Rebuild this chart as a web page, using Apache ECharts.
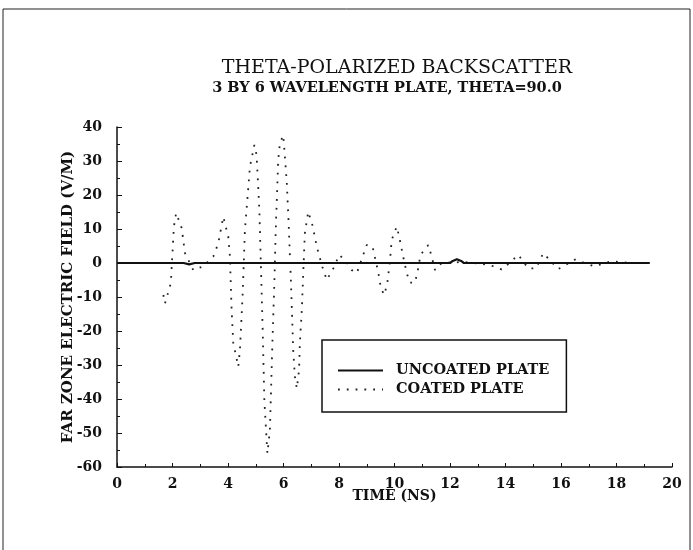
<!DOCTYPE html>
<html>
<head>
<meta charset="utf-8">
<script src="https://cdn.jsdelivr.net/npm/echarts@6/dist/echarts.min.js"></script>
<style>
  html, body { margin: 0; padding: 0; background: #fff; }
  #chart { width: 693px; height: 550px; }
</style>
</head>
<body>
<div id="chart"></div>
<script type="text/javascript">
    // time (ns) / field (V/M)
    var coatedT = [1.67, 1.73, 1.94, 2.05, 2.13, 2.33, 2.45, 2.75, 3.1, 3.47, 3.65, 3.83, 4.01, 4.07,
        4.13, 4.19, 4.37, 4.43, 4.53, 4.61, 4.79, 4.95, 5.03, 5.13, 5.19, 5.25, 5.31, 5.37, 5.42,
        5.51, 5.6, 5.67, 5.72, 5.81, 5.87, 5.99, 6.05, 6.12, 6.19, 6.27, 6.35, 6.41, 6.48, 6.56,
        6.59, 6.66, 6.74, 6.77, 6.89, 7.04, 7.2, 7.4, 7.56, 7.8, 8.01, 8.25, 8.46, 8.64, 9.0, 9.21,
        9.42, 9.51, 9.63, 9.74, 9.84, 9.9, 10.08, 10.17, 10.3, 10.44, 10.56, 10.74, 10.84, 10.94,
        11.22, 11.34, 11.46, 11.7, 12.5, 13.4, 13.86, 14.2, 14.46, 14.82, 15.1, 15.36, 15.9,
        16.5, 17.2, 17.8, 18.5, 19.2];
    var coatedV = [-9.4, -11.9, -5.9, 10.7, 14.7, 10.3, 2.9, -2.1, -1.0, 1.9, 5.8, 13.6, 7.7, 1.9,
        -13.8, -23.5, -30.5, -25.6, -8.8, 9.7, 28.3, 34.7, 31.8, 15.6, -2.1, -19.7, -40.3, -49.1, -56,
        -49.1, -23.6, -6, 9.7, 30.3, 35.2, 37.6, 31.3, 23.4, 10.7, -6, -25.6, -33.4, -36.9, -31.5,
        -23.6, -13.8, 2.9, 8.7, 15.1, 11.2, 4.8, -1.1, -5, -1.5, 2.4, 0.5, -2.1, -3, 5.3, 4.8,
        -3, -7.4, -9.4, -6, 0.9, 6.8, 10.7, 7.7, 2.4, -3, -5.8, -5.8, -2.1, 2.4,
        5.3, 1.9, -2.1, 0, 0.3, -0.5, -1.9, 0.4, 2.4, -1.6, -1.6, 2.9, -1.8,
        1.0, -1.0, 0.5, 0, 0];

    var uncoatedT = [0, 2.4, 2.6, 2.8, 12.0, 12.1, 12.25, 12.4, 12.5, 19.2];
    var uncoatedV = [0, 0, -0.4, 0, 0, 0.6, 1.1, 0.6, 0, 0];

    var seriesNames = ['UNCOATED PLATE', 'COATED PLATE'];

    function pairs(t, v) {
        return t.map(function (x, i) { return [x, v[i]]; });
    }

    var font = 'DejaVu Serif';
    var chart = echarts.init(document.getElementById('chart'));
    var option = {
        animation: false,
        backgroundColor: '#fff',
        title: [{
            text: 'THETA-POLARIZED BACKSCATTER',
            left: 392,
            top: 54,
            textAlign: 'center',
            textStyle: { fontFamily: font, fontSize: 19, fontWeight: 'normal', color: '#111' }
        }, {
            text: '3 BY 6 WAVELENGTH PLATE, THETA=90.0',
            left: 382,
            top: 76,
            textAlign: 'center',
            textStyle: { fontFamily: font, fontSize: 14.5, fontWeight: 'bold', color: '#111' }
        }],
        grid: { left: 117, right: 21, top: 127, bottom: 83, containLabel: false },
        legend: {
            orient: 'vertical',
            left: 322,
            top: 340,
            data: seriesNames,
            itemWidth: 45,
            itemHeight: 14,
            itemGap: 4,
            padding: [23, 17, 15, 15],
            borderColor: '#111',
            borderWidth: 1.5,
            itemStyle: { opacity: 0 },
            textStyle: { fontFamily: font, fontSize: 14.5, fontWeight: 'bold', color: '#111', padding: [0, 0, 0, 8] }
        },
        xAxis: {
            type: 'value',
            min: 0,
            max: 20,
            interval: 2,
            name: 'TIME (NS)',
            nameLocation: 'middle',
            nameGap: 22,
            nameMoveOverlap: false,
            nameTextStyle: { fontFamily: font, fontSize: 14, fontWeight: 'bold', color: '#111' },
            axisLine: { onZero: false, lineStyle: { color: '#111', width: 1.5 } },
            axisTick: { inside: true, length: 4, lineStyle: { color: '#111' } },
            minorTick: { show: true, splitNumber: 2, length: 3, lineStyle: { color: '#111' } },
            axisLabel: { margin: 10, fontFamily: font, fontSize: 14, fontWeight: 'bold', color: '#111' },
            splitLine: { show: false }
        },
        yAxis: {
            type: 'value',
            min: -60,
            max: 40,
            interval: 10,
            name: 'FAR ZONE ELECTRIC FIELD (V/M)',
            nameLocation: 'middle',
            nameGap: 41,
            nameMoveOverlap: false,
            nameTextStyle: { fontFamily: font, fontSize: 15, fontWeight: 'bold', color: '#111' },
            axisLine: { show: true, onZero: false, lineStyle: { color: '#111', width: 1.5 } },
            axisTick: { show: true, inside: true, length: 5, lineStyle: { color: '#111' } },
            minorTick: { show: true, splitNumber: 2, length: 3, lineStyle: { color: '#111' } },
            axisLabel: { margin: 15, fontFamily: font, fontSize: 14, fontWeight: 'bold', color: '#111' },
            splitLine: { show: false }
        },
        series: [{
            name: seriesNames[0],
            type: 'line',
            symbol: 'none',
            z: 3,
            lineStyle: { color: '#111', width: 2.2, type: 'solid' },
            itemStyle: { color: '#111' },
            data: pairs(uncoatedT, uncoatedV)
        }, {
            name: seriesNames[1],
            type: 'line',
            symbol: 'none',
            z: 2,
            lineStyle: { color: '#222', width: 1.8, type: [1.8, 7] },
            itemStyle: { color: '#222' },
            data: pairs(coatedT, coatedV)
        }],
        graphic: [{
            type: 'polyline',
            shape: { points: [[3, 552], [3, 9], [690, 9], [690, 552]] },
            style: { stroke: '#222', lineWidth: 1, fill: null },
            silent: true
        }]
    };
    chart.setOption(option);
</script>
</body>
</html>
